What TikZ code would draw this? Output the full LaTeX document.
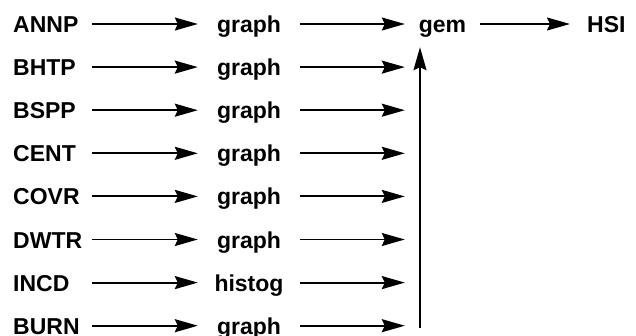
\documentclass[tikz,border=0pt]{standalone}
\usepackage{fontspec}
\setmainfont{Liberation Sans}
\usetikzlibrary{arrows.meta}

\begin{document}
\begin{tikzpicture}[x=1pt,y=-1pt,
    every node/.style={font=\fontsize{23}{27}\selectfont\bfseries, inner sep=0pt,
      text height=17pt, text depth=0pt},
    src/.style={anchor=west, text width=79pt, align=left},
    prog/.style={minimum width=102pt},
    arr/.style={-{Stealth[length=23pt,width=13pt,inset=3pt]}, line width=1.9pt}]
  \useasboundingbox (0,0) rectangle (636,335);
  \path
    (13,24) node[src] (annp){ANNP}
    (13,67.1) node[src] (bhtp){BHTP}
    (13,110.2) node[src] (bspp){BSPP}
    (13,153.3) node[src] (cent){CENT}
    (13,196.4) node[src] (covr){COVR}
    (13,239.5) node[src] (dwtr){DWTR}
    (13,282.6) node[src] (incd){INCD}
    (13,325.7) node[src] (burn){BURN};
  \path
    (249,24) node[prog] (g1){graph}
    (249,67.1) node[prog] (g2){graph}
    (249,110.2) node[prog] (g3){graph}
    (249,153.3) node[prog] (g4){graph}
    (249,196.4) node[prog] (g5){graph}
    (249,239.5) node[prog] (g6){graph}
    (249,282.6) node[prog] (h7){histog}
    (249,325.7) node[prog] (g8){graph};
  \node[minimum width=75pt, minimum height=46pt] (gem) at (442.5,24) {gem};
  \node[anchor=west, inner xsep=17pt] (hsi) at (570,24) {HSI};
  \coordinate (base) at (420,328);
  \begin{scope}[arr]
    \draw (annp.east) -- (g1.west);
    \draw (bhtp.east) -- (g2.west);
    \draw (bspp.east) -- (g3.west);
    \draw (cent.east) -- (g4.west);
    \draw (covr.east) -- (g5.west);
    \draw (dwtr.east) -- (g6.west);
    \draw (incd.east) -- (h7.west);
    \draw (burn.east) -- (g8.west);
    \draw (g1.east) -- (gem.west);
    \draw (g2.east) -- (g2.east -| gem.west);
    \draw (g3.east) -- (g3.east -| gem.west);
    \draw (g4.east) -- (g4.east -| gem.west);
    \draw (g5.east) -- (g5.east -| gem.west);
    \draw (g6.east) -- (g6.east -| gem.west);
    \draw (h7.east) -- (h7.east -| gem.west);
    \draw (g8.east) -- (g8.east -| gem.west);
    \draw (gem.east) -- (hsi.west);
    \draw[line width=1.6pt] (base) -- (base |- gem.south);
  \end{scope}
\end{tikzpicture}
\end{document}
